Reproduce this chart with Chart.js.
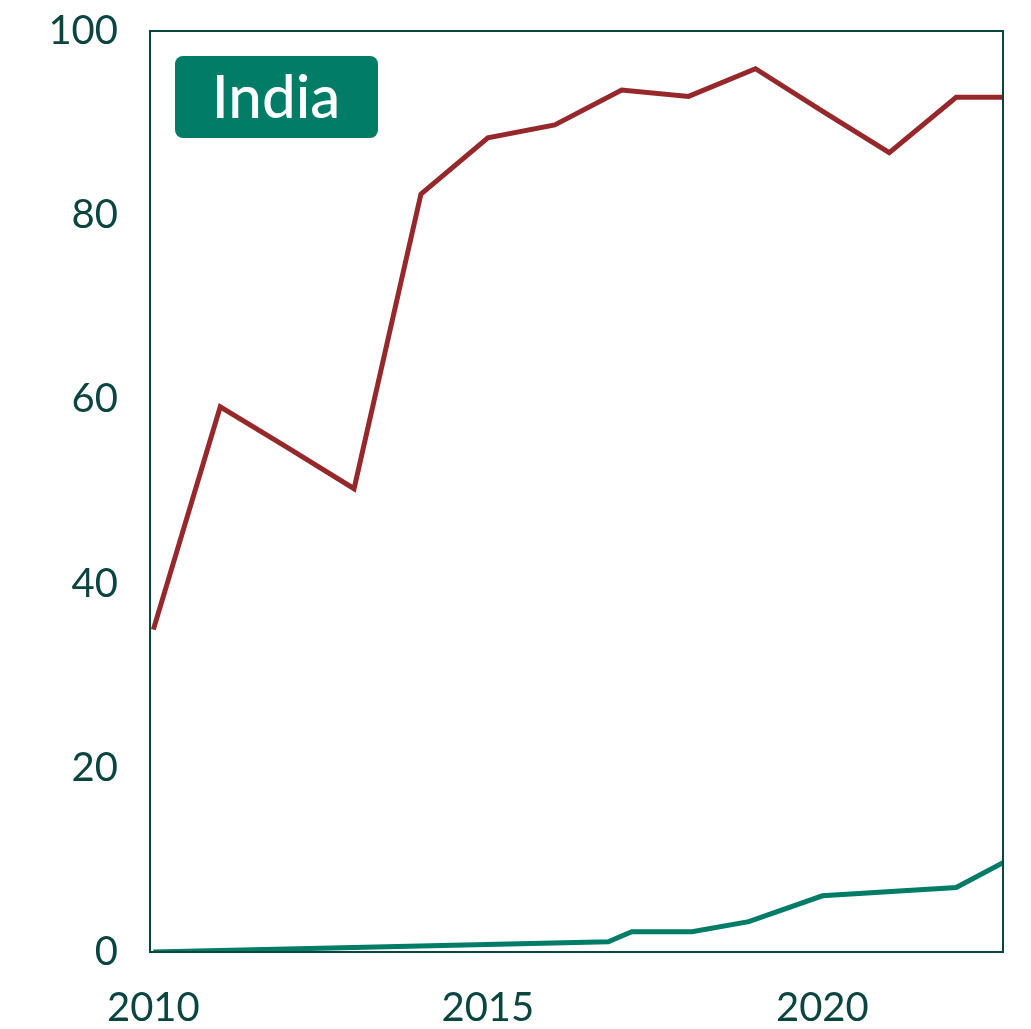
<!DOCTYPE html>
<html>
<head>
<meta charset="utf-8">
<script src="https://cdn.jsdelivr.net/npm/chart.js@4"></script>
<style>
  html, body { margin: 0; padding: 0; background: #fff; }
  #wrap { width: 1031px; height: 1029px; }
</style>
</head>
<body>
<div id="wrap"><canvas id="chart"></canvas></div>
<script>
// data
const redYears = [2010, 2011, 2012, 2013, 2014, 2015, 2016, 2017, 2018, 2019, 2020, 2021, 2022, 2022.7];
const redValues = [35, 59.2, 54.8, 50.3, 82.3, 88.4, 89.8, 93.6, 92.9, 95.9, 91.3, 86.8, 92.8, 92.8];
const greenYears = [2010, 2016.8, 2017.15, 2018.05, 2018.9, 2020, 2022, 2022.7];
const greenValues = [0, 1.1, 2.2, 2.2, 3.3, 6.1, 7.0, 9.7];
const xTicks = [2010, 2015, 2020];
const yTicks = [0, 20, 40, 60, 80, 100];
const panelLabel = 'India';

const ink = '#0b4540';
const FONT = 'Lato, "Open Sans", sans-serif';

const toPoints = (xs, ys) => xs.map((x, i) => ({ x: x, y: ys[i] }));

// frame round the plot + the country badge
const framePlugin = {
  id: 'frame',
  afterDatasetsDraw(chart) {
    const { ctx, chartArea: a } = chart;
    ctx.save();
    ctx.strokeStyle = ink;
    ctx.lineWidth = 2;
    ctx.strokeRect(a.left, a.top, a.right - a.left, a.bottom - a.top);

    ctx.fillStyle = '#017c67';
    ctx.beginPath();
    ctx.roundRect(175, 56, 203, 82, 8);
    ctx.fill();
    ctx.fillStyle = '#fff';
    ctx.font = '500 60px ' + FONT;
    ctx.textAlign = 'center';
    ctx.textBaseline = 'middle';
    ctx.fillText(panelLabel, 276, 99);
    ctx.restore();
  }
};

new Chart(document.getElementById('chart'), {
  type: 'line',
  data: {
    datasets: [
      {
        data: toPoints(redYears, redValues),
        borderColor: '#96282c',
        borderWidth: 5,
        pointRadius: 0,
        tension: 0
      },
      {
        data: toPoints(greenYears, greenValues),
        borderColor: '#017c67',
        borderWidth: 5,
        pointRadius: 0,
        tension: 0
      }
    ]
  },
  options: {
    responsive: true,
    maintainAspectRatio: false,
    animation: false,
    layout: { padding: { top: 31, right: 28, left: 0, bottom: 0 } },
    plugins: {
      legend: { display: false },
      tooltip: { enabled: false }
    },
    scales: {
      x: {
        type: 'linear',
        min: 2009.95,
        max: 2022.7,
        afterBuildTicks: (axis) => { axis.ticks = xTicks.map(v => ({ value: v })); },
        afterFit: (axis) => {
          axis.height = 77;
          axis.paddingLeft = 0;
          axis.paddingRight = 0;
        },
        grid: { display: false, drawTicks: false },
        border: { display: false },
        ticks: {
          padding: 32,
          maxRotation: 0,
          color: ink,
          font: { family: FONT, size: 40 },
          callback: (v) => String(v)
        }
      },
      y: {
        min: 0,
        max: 100,
        afterBuildTicks: (axis) => { axis.ticks = yTicks.map(v => ({ value: v })); },
        afterFit: (axis) => {
          axis.width = 150;
          axis.paddingTop = 0;
          axis.paddingBottom = 0;
        },
        grid: { display: false, drawTicks: false },
        border: { display: false },
        ticks: {
          padding: 32,
          color: ink,
          font: { family: FONT, size: 40 }
        }
      }
    }
  },
  plugins: [framePlugin]
});
</script>
</body>
</html>
